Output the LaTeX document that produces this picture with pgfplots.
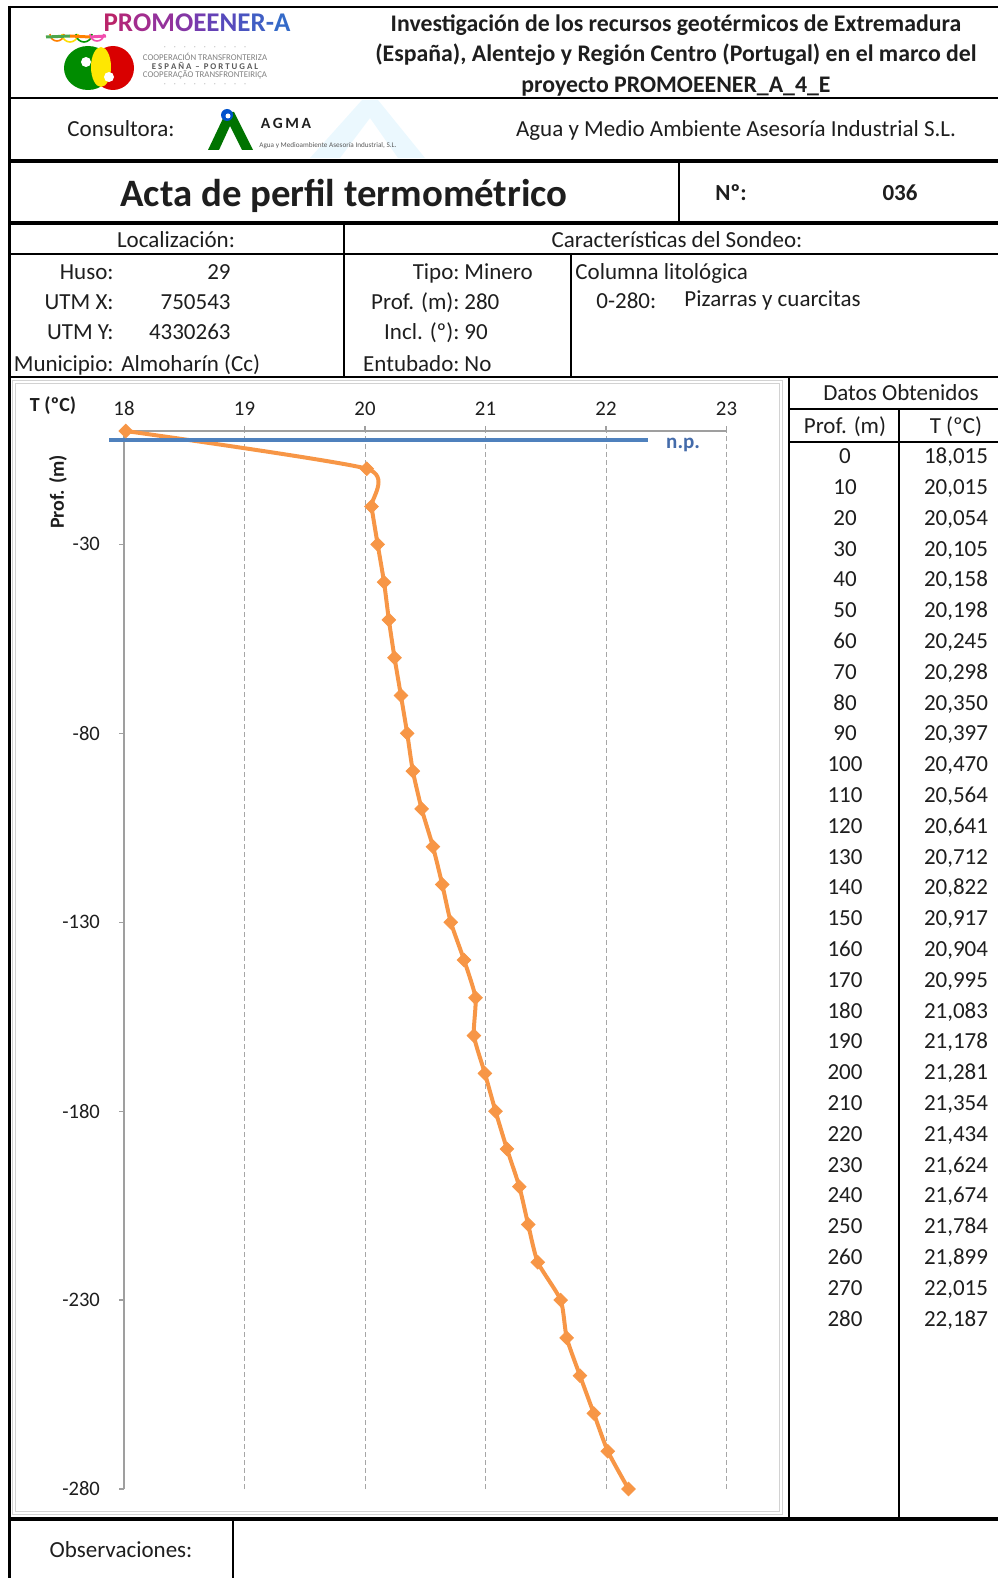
\documentclass[border=0pt]{standalone}
\usepackage{fontspec}
\setmainfont{Carlito}
\usepackage{pgfplots}
\pgfplotsset{compat=1.18}
\definecolor{ora}{RGB}{247,150,70}
\definecolor{blu}{RGB}{79,129,189}
\definecolor{npblue}{RGB}{68,107,170}
\definecolor{txt}{RGB}{30,30,30}
\newcommand{\fs}[1]{\fontsize{#1}{#1}\selectfont}
\begin{document}
\begin{tikzpicture}
\useasboundingbox (0,0) rectangle (499pt,-789pt);
\begin{scope}[x=0.5pt,y=-0.5pt]
% ---------- watermark
\fill[cyan!8] (310,158)--(362,100)--(378,100)--(425,158)--(398,158)--(370,118)--(340,158)--cycle;
% ---------- frame lines
\draw[line width=1.2pt] (8,7) -- (998,7);
\draw[line width=1.5pt] (9,6) -- (9,1578);
\draw[line width=0.8pt] (9,98) -- (998,98);
\draw[line width=1.8pt] (9,161) -- (998,161);
\draw[line width=1.6pt] (9,223) -- (998,223);
\draw[line width=0.6pt] (679,161) -- (679,223);
\draw[line width=0.6pt] (9,254) -- (998,254);
\draw[line width=0.6pt] (344,223) -- (344,377);
\draw[line width=0.6pt] (571,254) -- (571,377);
\draw[line width=0.6pt] (9,377) -- (998,377);
\draw[line width=0.6pt] (789,377) -- (789,1519);
\draw[line width=0.6pt] (789,409) -- (998,409);
\draw[line width=0.6pt] (899,409) -- (899,1519);
\draw[line width=0.6pt] (789,442) -- (998,442);
\draw[line width=2pt] (9,1519) -- (998,1519);
\draw[line width=0.6pt] (233,1519) -- (233,1578);
% chart area frame
\draw[gray!35, line width=0.5pt] (12,380) rectangle (782,1514);
\draw[gray!35, line width=0.5pt] (15,383) rectangle (779,1511);
% ---------- PROMOEENER logo
\draw[orange, line width=0.8pt] (50,34) arc (180:0:7);
\draw[yellow!80!orange, line width=0.8pt] (62,34) arc (180:0:8);
\draw[green!60!black, line width=0.8pt] (76,34) arc (180:0:8);
\draw[magenta!70, line width=0.8pt] (90,34) arc (180:0:7);
\draw[line width=1.5pt, green!50!black!70] (46,37) -- (70,36);
\draw[line width=1.5pt, orange] (70,36) -- (90,37);
\draw[line width=1.5pt, magenta!70] (90,37) -- (106,36);
\node[font=\bfseries\fs{13.5}, inner sep=0] at (197,23) {%
\textcolor[RGB]{185,35,105}{P}\textcolor[RGB]{175,40,125}{R}\textcolor[RGB]{162,45,142}{O}\textcolor[RGB]{148,50,155}{M}\textcolor[RGB]{132,55,165}{O}\textcolor[RGB]{116,60,175}{E}\textcolor[RGB]{100,66,182}{E}\textcolor[RGB]{86,74,188}{N}\textcolor[RGB]{74,84,192}{E}\textcolor[RGB]{64,94,196}{R}\textcolor[RGB]{58,100,198}{-}\textcolor[RGB]{52,106,200}{A}};
% cooperation logo
\fill[green!55!black] (88,68) ellipse (24 and 22);
\fill[red!85!black] (113,68) ellipse (21 and 22);
\fill[yellow!90!orange] (101,67) ellipse (10 and 20);
\fill[white] (86,62) circle (5);
\fill[white] (109,77) circle (5);
\node[gray, font=\fs{4.4}, inner sep=0] at (205,57) {COOPERACIÓN TRANSFRONTERIZA};
\node[gray!70!black, font=\bfseries\fs{4.4}, inner sep=0] at (205,66) {E S P A Ñ A \ -- \ P O R T U G A L};
\node[gray, font=\fs{4.4}, inner sep=0] at (205,75) {COOPERAÇÃO TRANSFRONTEIRIÇA};
\node[gray!60, font=\fs{4}, inner sep=0] at (205,48) {·\quad·\quad·\quad·\quad·\quad·\quad·\quad·\quad·};
\node[gray!60, font=\fs{4}, inner sep=0] at (205,85) {·\quad·\quad·\quad·\quad·\quad·\quad·\quad·\quad·};
% AGMA logo
\fill[green!45!black] (208,150)--(226,112)--(234,112)--(253,150)--(242,150)--(230,126)--(219,150)--cycle;
\fill[blue!60!cyan!80!black] (227,115) circle (6);
\fill[white] (228,116) circle (2.5);
\node[font=\bfseries\fs{7.8}, txt, inner sep=0] at (286,123) {A\,G\,M\,A};
\node[font=\fs{3.6}, gray!70!black, inner sep=0, anchor=west] at (259,146) {Agua y Medioambiente Asesoría Industrial, S.L.};
% ---------- texts
\begin{scope}[every node/.style={inner sep=0, text=txt, anchor=mid, yshift=-1.5pt}]
\node[font=\bfseries\fs{11.9}] at (676,24) {Investigación de los recursos geotérmicos de Extremadura};
\node[font=\bfseries\fs{11.9}] at (676,54) {(España), Alentejo y Región Centro (Portugal) en el marco del};
\node[font=\bfseries\fs{11.9}] at (676,85) {proyecto PROMOEENER\_A\_4\_E};
\node[font=\fs{11.5}] at (121,129) {Consultora:};
\node[font=\fs{11.5}] at (736,129) {Agua y Medio Ambiente Asesoría Industrial S.L.};
\node[font=\bfseries\fs{19.4}] at (344,199) {Acta de perfil termométrico};
\node[font=\bfseries\fs{11.5}] at (731,193) {Nº:};
\node[font=\bfseries\fs{11.5}] at (900,193) {036};
\node[font=\fs{11.5}] at (176,240) {Localización:};
\node[font=\fs{11.5}] at (677,240) {Características del Sondeo:};
\node[font=\fs{11.5}, anchor=mid east] at (114,272) {Huso:};
\node[font=\fs{11.5}, anchor=mid east] at (231,272) {29};
\node[font=\fs{11.5}, anchor=mid east] at (114,302) {UTM X:};
\node[font=\fs{11.5}, anchor=mid east] at (231,302) {750543};
\node[font=\fs{11.5}, anchor=mid east] at (114,332) {UTM Y:};
\node[font=\fs{11.5}, anchor=mid east] at (231,332) {4330263};
\node[font=\fs{11.5}, anchor=mid east] at (114,364) {Municipio:};
\node[font=\fs{11.5}, anchor=mid west] at (121,364) {Almoharín (Cc)};
\node[font=\fs{11.5}, anchor=mid east] at (460,272) {Tipo:};
\node[font=\fs{11.5}, anchor=mid west] at (464,272) {Minero};
\node[font=\fs{11.5}, anchor=mid east] at (460,302) {Prof. (m):};
\node[font=\fs{11.5}, anchor=mid west] at (464,302) {280};
\node[font=\fs{11.5}, anchor=mid east] at (460,332) {Incl. (º):};
\node[font=\fs{11.5}, anchor=mid west] at (464,332) {90};
\node[font=\fs{11.5}, anchor=mid east] at (460,364) {Entubado:};
\node[font=\fs{11.5}, anchor=mid west] at (464,364) {No};
\node[font=\fs{11.5}, anchor=mid west] at (575,272) {Columna litológica};
\node[font=\fs{11.5}, anchor=mid west] at (596,301) {0-280:};
\node[font=\fs{11.5}, anchor=mid west] at (684,299) {Pizarras y cuarcitas};
\node[font=\fs{11.5}] at (901,393) {Datos Obtenidos};
\node[font=\fs{11.5}] at (845,426) {Prof. (m)};
\node[font=\fs{11.5}] at (956,426) {T (ºC)};
\foreach \d/\t [count=\i from 0] in {0/18{,}015,10/20{,}015,20/20{,}054,30/20{,}105,40/20{,}158,50/20{,}198,60/20{,}245,70/20{,}298,80/20{,}350,90/20{,}397,100/20{,}470,110/20{,}564,120/20{,}641,130/20{,}712,140/20{,}822,150/20{,}917,160/20{,}904,170/20{,}995,180/21{,}083,190/21{,}178,200/21{,}281,210/21{,}354,220/21{,}434,230/21{,}624,240/21{,}674,250/21{,}784,260/21{,}899,270/22{,}015,280/22{,}187}{
  \node[font=\fs{11.5}] at (845,456+30.8*\i) {\d};
  \node[font=\fs{11.5}] at (956,456+30.8*\i) {\t};
}
\node[font=\fs{11.5}] at (121,1550) {Observaciones:};
\node[font=\bfseries\fs{10}] at (53,404) {T (ºC)};
\end{scope}
\node[font=\bfseries\fs{10}, rotate=90, inner sep=0, text=txt] at (58,492) {Prof. (m)};
\end{scope}
\begin{axis}[
  at={(62pt,-215.5pt)}, anchor=north west,
  scale only axis, width=301.25pt, height=529pt,
  xmin=18, xmax=23, ymin=-280, ymax=0,
  axis x line=top, axis y line=left,
  axis line style={-, draw=gray!75, line width=0.6pt},
  xtick={18,19,20,21,22,23},
  ytick={-280,-230,-180,-130,-80,-30},
  tick align=outside,
  major tick length=2.5pt,
  tick style={gray!75, line width=0.6pt},
  xmajorgrids,
  grid style={gray!70, dash pattern=on 2.5pt off 1.5pt, line width=0.5pt},
  clip=false,
  /pgf/number format/assume math mode=true,
  xticklabel style={font=\fs{10.4}, text=txt, yshift=1.5pt},
  yticklabel style={font=\fs{10.3}, text=txt, xshift=-6pt},
]
\addplot[ora, line width=2pt, smooth, tension=0.35, mark=square*, mark size=2.4pt,
  mark options={solid, rotate=45, draw=ora, fill=ora, line width=0.4pt}]
  coordinates {
  (18.015,0) (20.015,-10) (20.054,-20) (20.105,-30) (20.158,-40) (20.198,-50)
  (20.245,-60) (20.298,-70) (20.350,-80) (20.397,-90) (20.470,-100) (20.564,-110)
  (20.641,-120) (20.712,-130) (20.822,-140) (20.917,-150) (20.904,-160) (20.995,-170)
  (21.083,-180) (21.178,-190) (21.281,-200) (21.354,-210) (21.434,-220) (21.624,-230)
  (21.674,-240) (21.784,-250) (21.899,-260) (22.015,-270) (22.187,-280)};
\addplot[blu, line width=2.4pt, no marks] coordinates {(17.876,-2.4) (22.346,-2.4)};
\node[text=npblue, font=\bfseries\fs{10.5}, inner sep=0] at (axis cs:22.64,-3.6) {n.p.};
\end{axis}
\end{tikzpicture}
\end{document}
